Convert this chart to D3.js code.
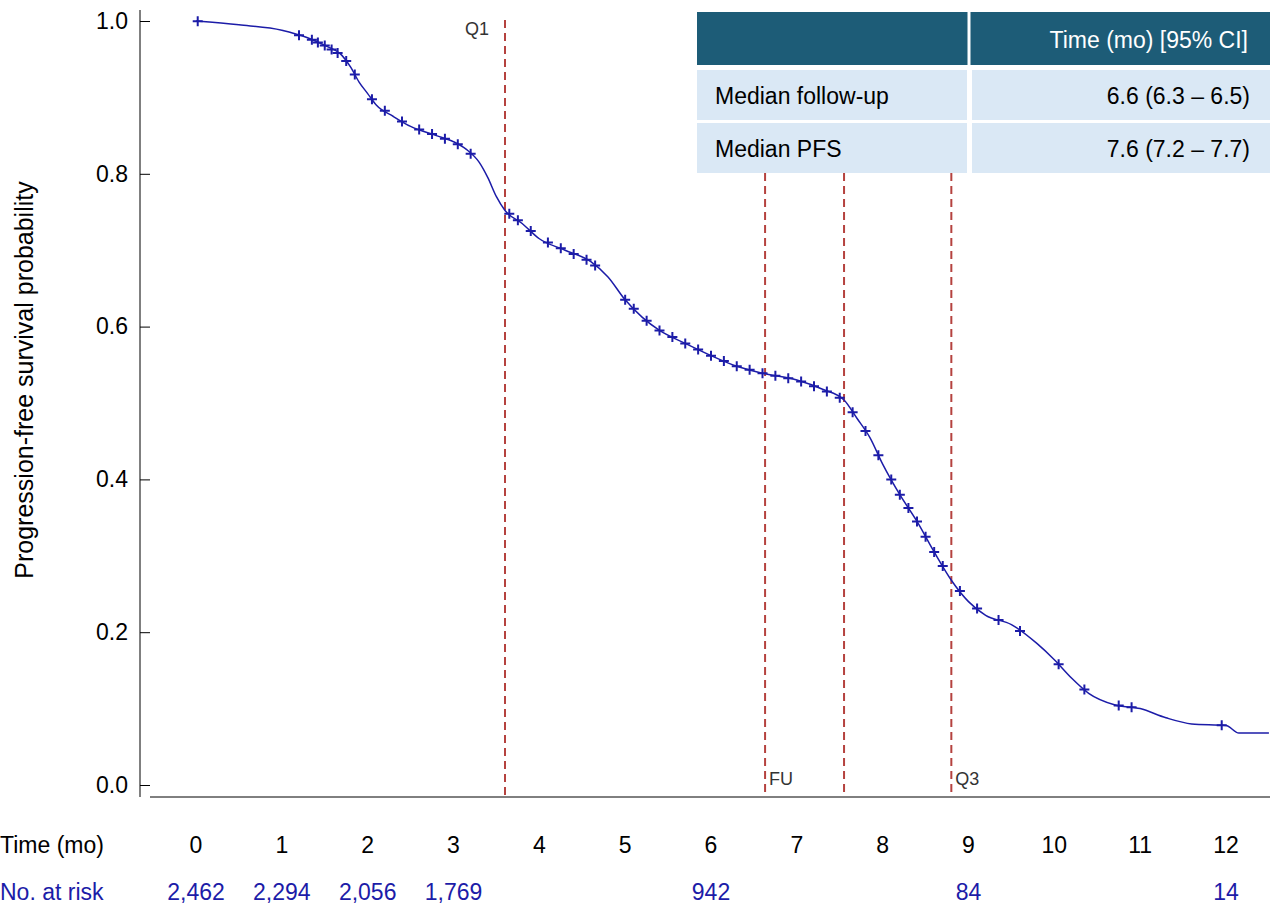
<!DOCTYPE html>
<html><head><meta charset="utf-8">
<script src="https://cdn.jsdelivr.net/npm/d3@7"></script>
<style>body{margin:0;background:#fff;font-family:"Liberation Sans",Arial,sans-serif}</style>
</head><body><div id="chart"></div>
<script>
const W = 1280, H = 910;
const curve = [
  [0,1.0],[0.5,0.995],[1.0,0.988],[1.3,0.978],[1.5,0.968],[1.7,0.955],[1.8,0.94],[1.9,0.92],
  [2.0,0.905],[2.1,0.89],[2.3,0.875],[2.5,0.862],[2.8,0.85],[3.0,0.842],[3.15,0.832],[3.3,0.815],
  [3.4,0.795],[3.5,0.77],[3.6,0.752],[3.8,0.735],[4.0,0.715],[4.3,0.7],[4.6,0.685],[4.8,0.665],
  [5.0,0.635],[5.2,0.612],[5.4,0.595],[5.7,0.578],[6.0,0.562],[6.3,0.548],[6.6,0.539],[7.0,0.53],
  [7.3,0.518],[7.55,0.504],[7.7,0.48],[7.85,0.455],[8.0,0.42],[8.2,0.38],[8.4,0.345],[8.6,0.305],
  [8.8,0.268],[9.0,0.24],[9.2,0.222],[9.5,0.21],[9.8,0.185],[10.0,0.164],[10.2,0.14],[10.4,0.12],
  [10.7,0.105],[11.0,0.1],[11.3,0.088],[11.6,0.08],[12.0,0.078],[12.15,0.068],[12.5,0.068]
];
const censors = [0.02,1.2,1.35,1.42,1.5,1.58,1.65,1.75,1.85,2.05,2.2,2.4,2.6,2.75,2.9,3.05,3.2,
  3.65,3.75,3.9,4.1,4.25,4.4,4.55,4.65,5.0,5.1,5.25,5.4,5.55,5.7,5.85,6.0,6.15,6.3,6.45,6.6,6.75,6.9,7.05,
  7.2,7.35,7.5,7.65,7.8,7.95,8.1,8.2,8.3,8.4,8.5,8.6,8.7,8.9,9.1,9.35,9.6,10.05,10.35,10.75,10.9,11.95];
const atRisk = [[0,"2,462"],[1,"2,294"],[2,"2,056"],[3,"1,769"],[6,"942"],[9,"84"],[12,"14"]];
const refs = [[3.6,"Q1",20,"top"],[6.63,"FU",160,"bottom"],[7.55,"",160,""],[8.8,"Q3",160,"bottom"]];

const x = d3.scaleLinear().domain([0,12]).range([196,1226]);
const y = d3.scaleLinear().domain([0,1]).range([785,21]);
const svg = d3.select("#chart").append("svg").attr("width",W).attr("height",H);
const blue = "#1c1ca8";

// axes
svg.append("g").attr("transform","translate(150,0)")
  .call(d3.axisLeft(y).tickValues([0,0.2,0.4,0.6,0.8,1]).tickFormat(d3.format(".1f")).tickSize(10).tickPadding(12))
  .call(g=>g.select(".domain").attr("d","M-10,10V797"))
  .selectAll("text").attr("font-size",23).attr("fill","#000").attr("font-family","Liberation Sans,Arial");
svg.append("line").attr("x1",150).attr("x2",1270).attr("y1",797).attr("y2",797).attr("stroke","#000");
svg.selectAll(".xt").data(d3.range(0,13)).join("text")
  .attr("x",d=>x(d)).attr("y",853).attr("text-anchor","middle").attr("font-size",23).text(d=>d);
svg.append("text").attr("x",0).attr("y",853).attr("font-size",23).text("Time (mo)");
svg.append("text").attr("transform","translate(33,380) rotate(-90)").attr("text-anchor","middle")
  .attr("font-size",25).text("Progression-free survival probability");

// reference lines
refs.forEach(([t,lab,top,pos])=>{
  svg.append("line").attr("x1",x(t)).attr("x2",x(t)).attr("y1",top).attr("y2",797)
    .attr("stroke","#b5423f").attr("stroke-width",2).attr("stroke-dasharray","8,5");
  if (lab) svg.append("text").attr("x",x(t)-(pos==="top"?40:-4)).attr("y",pos==="top"?35:785)
    .attr("font-size",18).attr("fill","#333").text(lab);
});

// KM curve
svg.append("path").datum(curve).attr("fill","none").attr("stroke",blue).attr("stroke-width",1.5)
  .attr("d",d3.line().x(d=>x(d[0])).y(d=>y(d[1])).curve(d3.curveMonotoneX));
const sAt = t => {
  const i = d3.bisector(d=>d[0]).right(curve,t) - 1;
  const a = curve[Math.max(i,0)], b = curve[Math.min(i+1,curve.length-1)];
  return b[0]===a[0] ? a[1] : a[1] + (b[1]-a[1])*(t-a[0])/(b[0]-a[0]);
};
svg.append("g").selectAll("path").data(censors).join("path")
  .attr("d",t=>`M${x(t)-5},${y(sAt(t))}h10M${x(t)},${y(sAt(t))-5}v10`)
  .attr("stroke",blue).attr("stroke-width",2);

// table
const tb = svg.append("g");
tb.append("rect").attr("x",697).attr("y",12).attr("width",573).attr("height",53).attr("fill","#1d5c77");
tb.append("line").attr("x1",969).attr("x2",969).attr("y1",12).attr("y2",65).attr("stroke","#fff").attr("stroke-width",3);
tb.append("text").attr("x",1248).attr("y",48).attr("text-anchor","end").attr("font-size",23).attr("fill","#fff").text("Time (mo) [95% CI]");
[["Median follow-up","6.6 (6.3 \u2013 6.5)",70],["Median PFS","7.6 (7.2 \u2013 7.7)",123]].forEach(([a,b,yy])=>{
  tb.append("rect").attr("x",697).attr("y",yy).attr("width",270).attr("height",50).attr("fill","#dae8f5");
  tb.append("rect").attr("x",972).attr("y",yy).attr("width",298).attr("height",50).attr("fill","#dae8f5");
  tb.append("text").attr("x",715).attr("y",yy+34).attr("font-size",23).text(a);
  tb.append("text").attr("x",1250).attr("y",yy+34).attr("text-anchor","end").attr("font-size",23).text(b);
});

// at risk
svg.append("text").attr("x",0).attr("y",900).attr("font-size",23).attr("fill",blue).text("No. at risk");
svg.selectAll(".ar").data(atRisk).join("text").attr("x",d=>x(d[0])).attr("y",900)
  .attr("text-anchor","middle").attr("font-size",23).attr("fill",blue).text(d=>d[1]);
</script></body></html>
